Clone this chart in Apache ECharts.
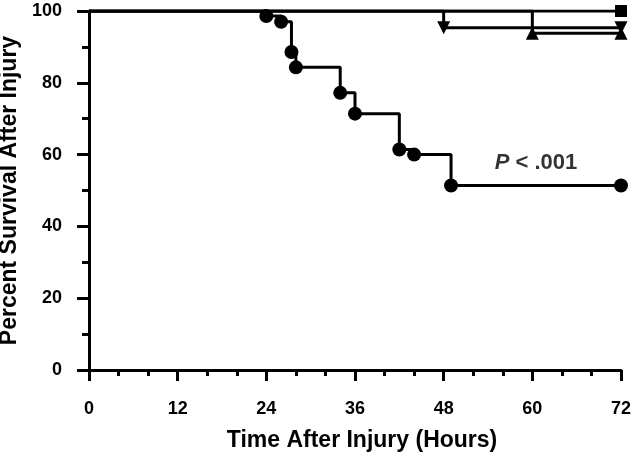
<!DOCTYPE html>
<html><head><meta charset="utf-8">
<script src="https://cdn.jsdelivr.net/npm/echarts@6/dist/echarts.min.js"></script>
<style>html,body{margin:0;padding:0;background:#fff}#c{width:640px;height:457px}</style>
</head><body><div id="c"></div>
<script>
// Kaplan-Meier groups (time in hours, survival in %)
var circleTimes = [0, 24, 26, 27.4, 28, 34, 36, 42, 44, 49, 72];
var circleSurv  = [100, 98.6, 97.0, 88.6, 84.3, 77.2, 71.4, 61.4, 60.0, 51.4, 51.4];
var squareTimes = [0, 72];
var squareSurv  = [100, 100];
var invTriTimes = [0, 48, 72];
var invTriSurv  = [100, 95.3, 95.3];
var triTimes    = [0, 60, 72];
var triSurv     = [100, 93.8, 93.8];
var pText = {x: 60.5, y: 57.7, label: '< .001'};
var xTicks = [0, 12, 24, 36, 48, 60, 72];
var yTicks = [0, 20, 40, 60, 80, 100];

var FONT = '"Liberation Sans", Arial, sans-serif';
function pts(t, s) {
  return t.map(function (v, i) {
    var d = {value: [v, s[i]]};
    if (i === 0) d.symbol = 'none';
    return d;
  });
}
function km(name, t, s, symbol, size, rot) {
  return {
    name: name, type: 'line', step: 'end', data: pts(t, s),
    symbol: symbol, symbolSize: size, symbolRotate: rot || 0,
    showAllSymbol: true,
    lineStyle: {color: '#000', width: 3},
    itemStyle: {color: '#000', borderWidth: 0},
    animation: false
  };
}
var chart = echarts.init(document.getElementById('c'), null, {renderer: 'canvas'});
chart.setOption({
  backgroundColor: '#fff',
  animation: false,
  grid: {left: 89, right: 19, top: 11, bottom: 87, containLabel: false, outerBoundsMode: 'none'},
  xAxis: {
    type: 'value', min: xTicks[0], max: xTicks[xTicks.length - 1], interval: 12,
    name: 'Time After Injury (Hours)', nameLocation: 'middle', nameGap: 59,
    nameTextStyle: {fontFamily: FONT, fontWeight: 'bold', fontSize: 23, color: '#000', padding: [0, 0, 0, 14]},
    axisLine: {onZero: false, lineStyle: {color: '#000', width: 3}},
    axisTick: {inside: false, length: 11, lineStyle: {color: '#000', width: 3}},
    minorTick: {show: true, splitNumber: 3, length: 6, lineStyle: {color: '#000', width: 3}},
    axisLabel: {margin: 30, fontFamily: FONT, fontWeight: 'bold', fontSize: 18, color: '#000'},
    splitLine: {show: false}
  },
  yAxis: {
    type: 'value', min: yTicks[0], max: yTicks[yTicks.length - 1], interval: 20,
    name: 'Percent Survival After Injury', nameLocation: 'middle', nameGap: 66,
    nameTextStyle: {fontFamily: FONT, fontWeight: 'bold', fontSize: 23, color: '#000'},
    axisLine: {show: true, onZero: false, lineStyle: {color: '#000', width: 3}},
    axisTick: {show: true, inside: false, length: 12, lineStyle: {color: '#000', width: 3}},
    minorTick: {show: true, splitNumber: 2, length: 7, lineStyle: {color: '#000', width: 3}},
    axisLabel: {margin: 27, fontFamily: FONT, fontWeight: 'bold', fontSize: 18, color: '#000'},
    splitLine: {show: false}
  },
  series: [
    km('squares', squareTimes, squareSurv, 'rect', 12),
    km('invtri', invTriTimes, invTriSurv, 'triangle', 13, 180),
    km('tri', triTimes, triSurv, 'triangle', 13),
    km('circles', circleTimes, circleSurv, 'circle', 14),
    {
      type: 'scatter', symbol: 'circle', symbolSize: 0, data: [[pText.x, pText.y]], silent: true,
      itemStyle: {color: 'rgba(0,0,0,0)'},
      label: {
        show: true, position: 'inside',
        formatter: '{i|P} ' + pText.label,
        fontFamily: FONT, fontWeight: 'bold', fontSize: 22, color: '#000',
        rich: {i: {fontFamily: FONT, fontWeight: 'bold', fontStyle: 'italic', fontSize: 22, color: '#000'}}
      },
      animation: false
    }
  ]
});
</script></body></html>
